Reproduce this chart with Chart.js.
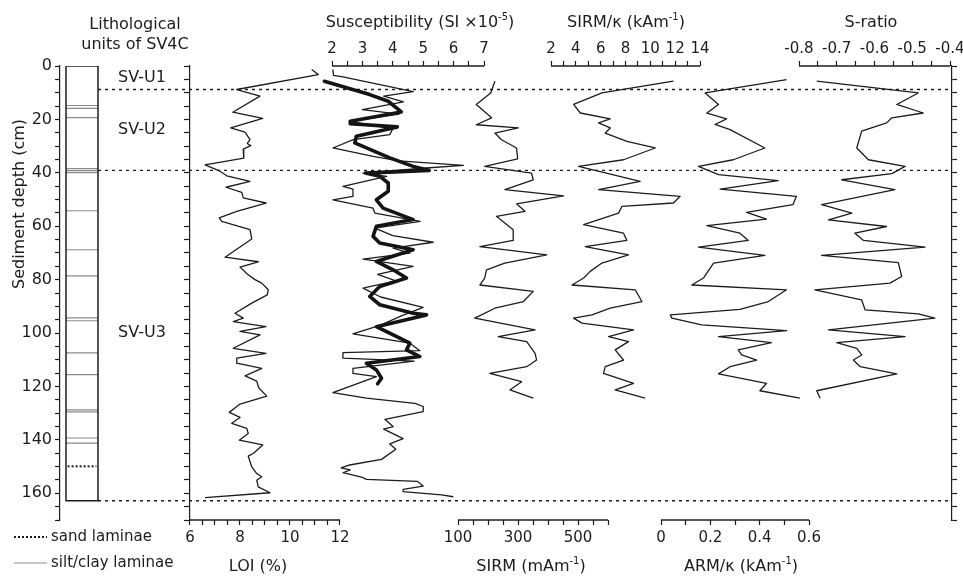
<!DOCTYPE html>
<html lang="en">
<head>
<meta charset="UTF-8">
<title>SV4C core profiles</title>
<script src="https://cdn.jsdelivr.net/npm/chart.js@4.4.1/dist/chart.umd.min.js"></script>
<style>
  body { margin: 0; background: #fff; }
</style>
</head>
<body>
<canvas id="core" width="963" height="576"></canvas>
<script>
const INK = '#1c1c1c';
const FONT = '"DejaVu Sans", "Liberation Sans", Arial, sans-serif';

// [depth (cm), value]
const loi = [[1.3,10.87],[3.2,11.13],[8.8,7.87],[11.3,8.8],[17.3,7.71],[19.6,8.91],[23.2,7.63],[24.8,8.2],[27.6,8.4],[29.0,8.29],[29.8,8.43],[31.1,8.13],[34.5,8.15],[37.0,6.6],[39.4,7.2],[41.1,7.47],[43.2,8.4],[45.4,7.44],[47.3,8.07],[49.4,8.13],[51.3,9.04],[54.4,7.87],[56.9,7.17],[58.2,7.27],[61.3,8.4],[64.8,8.47],[71.6,7.4],[73.3,8.73],[75.3,8.0],[78.0,8.3],[80.0,8.6],[81.3,8.87],[83.8,9.13],[85.7,9.09],[88.8,8.47],[92.6,7.8],[94.4,8.13],[95.7,7.73],[97.6,9.04],[99.4,8.0],[100.7,8.8],[105.7,7.73],[107.6,9.04],[109.4,7.87],[111.3,7.87],[113.2,8.87],[116.0,8.2],[118.0,8.67],[120.5,8.75],[123.6,9.07],[126.6,8.0],[129.7,7.57],[131.6,8.0],[133.8,7.67],[135.7,8.27],[137.6,8.33],[140.1,7.97],[141.9,8.91],[145.1,8.53],[146.1,8.33],[150.1,8.47],[152.6,8.67],[153.8,8.87],[155.1,8.67],[157.6,8.73],[159.8,9.2],[161.6,6.6]];

const susRaw = [[1.3,2.03],[3.5,2.05],[4.1,2.36],[9.6,4.67],[11.3,3.7],[13.4,4.35],[16.3,3.0],[18.0,4.2],[20.7,2.6],[23.5,4.0],[25.7,3.9],[27.6,2.7],[30.7,2.03],[33.8,3.35],[35.5,4.2],[37.2,6.32],[38.2,5.1],[40.1,3.02],[41.3,3.8],[45.1,2.36],[46.1,2.69],[48.8,2.69],[50.1,2.03],[53.2,3.35],[55.1,3.41],[58.2,4.9],[60.7,3.41],[63.5,4.0],[66.0,5.33],[68.2,4.01],[70.1,4.56],[72.3,3.02],[75.0,4.67],[78.0,3.5],[80.5,4.1],[83.2,3.02],[86.5,3.6],[90.4,5.0],[93.5,4.3],[97.0,3.6],[100.3,2.69],[103.8,4.56],[106.6,4.89],[107.3,2.36],[109.4,2.36],[110.5,4.7],[113.2,2.69],[115.1,2.69],[116.3,3.46],[122.3,2.03],[124.4,3.13],[126.3,4.73],[127.5,5.0],[129.4,5.0],[132.3,3.74],[135.0,4.01],[136.0,3.7],[139.5,4.34],[141.5,3.9],[143.5,4.1],[147.3,3.63],[149.4,2.58],[150.5,2.3],[151.2,2.6],[152.3,2.36],[154.0,3.0],[154.8,3.13],[155.5,4.8],[157.3,5.0],[158.5,4.34],[159.4,4.34],[160.6,5.6],[161.3,5.99]];

const susBold = [[5.7,1.75],[10.7,3.24],[13.2,3.85],[17.2,4.28],[20.7,2.6],[21.6,2.6],[22.8,4.15],[26.3,2.8],[28.8,2.75],[34.4,3.9],[37.6,4.67],[39.1,5.2],[40.1,3.1],[41.3,3.57],[43.8,3.85],[46.9,3.85],[50.1,3.46],[53.2,3.68],[57.5,4.67],[60.0,3.46],[63.8,3.35],[66.3,3.57],[68.8,4.67],[73.2,3.46],[76.3,4.01],[79.4,4.45],[82.6,3.57],[86.3,3.24],[89.4,3.57],[92.6,4.67],[93.2,5.11],[97.6,3.46],[101.9,4.23],[103.8,4.56],[106.3,4.45],[108.8,4.89],[111.3,3.13],[113.8,3.46],[116.9,3.63],[119.0,3.5]];

const sirm = [[5.7,223],[10.1,209],[14.4,161],[19.4,212],[22.0,161],[23.2,301],[25.1,223],[27.6,245],[30.7,295],[34.8,299],[37.6,189],[40.1,345],[42.6,351],[46.3,256],[48.6,452],[51.6,295],[54.4,323],[56.3,228],[61.3,284],[65.3,284],[67.6,173],[70.7,396],[73.8,256],[76.3,195],[79.4,189],[82.0,173],[84.4,351],[88.2,318],[90.7,223],[94.4,156],[98.8,357],[101.3,234],[103.2,329],[107.6,357],[110.1,362],[112.6,329],[115.1,206],[118.2,312],[121.3,273],[124.4,351]];

const sirmK = [[5.7,11.86],[10.1,6.1],[14.4,3.82],[17.6,4.36],[19.8,6.77],[21.3,5.83],[23.2,6.77],[25.1,6.37],[28.2,8.11],[30.7,10.39],[35.1,7.84],[37.6,4.22],[43.2,9.18],[46.3,5.83],[48.8,12.4],[51.3,11.86],[52.6,7.71],[55.1,7.44],[59.4,4.63],[62.6,7.84],[65.3,8.11],[67.6,4.76],[70.7,8.24],[73.8,6.1],[76.9,5.16],[79.4,4.63],[82.0,3.69],[83.8,8.78],[88.2,9.32],[90.7,6.77],[93.2,5.3],[94.4,3.82],[96.3,4.49],[98.8,8.65],[101.3,6.64],[103.2,8.24],[106.3,7.17],[110.1,7.84],[112.6,6.37],[115.1,6.23],[118.8,8.65],[121.3,7.17],[124.4,9.58]];

const armK = [[5.1,0.509],[10.1,0.179],[14.4,0.233],[17.6,0.186],[19.8,0.266],[21.9,0.219],[23.8,0.28],[30.7,0.421],[35.1,0.293],[37.6,0.152],[40.7,0.233],[42.9,0.475],[46.1,0.24],[48.8,0.549],[51.9,0.535],[54.8,0.347],[57.3,0.428],[59.8,0.186],[62.6,0.32],[65.3,0.354],[67.8,0.152],[70.9,0.421],[73.8,0.213],[79.4,0.172],[82.0,0.125],[83.8,0.509],[88.2,0.435],[91.1,0.32],[93.2,0.038],[94.4,0.044],[96.9,0.165],[99.1,0.509],[101.3,0.233],[103.6,0.448],[106.3,0.313],[108.2,0.327],[110.1,0.388],[112.6,0.28],[115.3,0.233],[118.8,0.428],[121.6,0.401],[124.4,0.563]];

const sRatio = [[5.7,-0.753],[10.1,-0.484],[14.4,-0.541],[17.6,-0.471],[19.4,-0.554],[21.3,-0.568],[24.4,-0.634],[30.7,-0.647],[35.1,-0.616],[37.6,-0.519],[40.3,-0.554],[42.6,-0.687],[46.3,-0.546],[51.9,-0.74],[55.1,-0.66],[57.6,-0.722],[60.1,-0.568],[62.6,-0.652],[65.3,-0.629],[67.8,-0.466],[70.9,-0.74],[73.6,-0.537],[78.8,-0.528],[81.3,-0.559],[83.8,-0.758],[87.6,-0.634],[91.3,-0.625],[92.8,-0.484],[94.4,-0.44],[98.8,-0.722],[101.3,-0.519],[103.6,-0.7],[105.7,-0.647],[108.2,-0.634],[110.1,-0.656],[112.6,-0.638],[115.3,-0.541],[121.6,-0.753],[124.4,-0.744]];

// tick labels
const depthTicks = [0, 20, 40, 60, 80, 100, 120, 140, 160];
const loiTicks = [6, 8, 10, 12];
const susTicks = [2, 3, 4, 5, 6, 7];
const sirmKTicks = [2, 4, 6, 8, 10, 12, 14];
const sRatioTicks = [-0.8, -0.7, -0.6, -0.5, -0.4];
const sirmTicks = [100, 300, 500];
const armKTicks = [0, 0.2, 0.4, 0.6];

// lithology column
const coreBase = 162.8;
const siltLaminae = [14.8, 15.9, 19.3, 38.4, 39.2, 39.9, 54.2, 68.8, 78.6, 94.3, 95.4, 107.4, 115.6, 128.8, 129.5, 139.3, 141.2];
const sandLaminae = [149.9];
const unitBounds = [8.8, 39.1, 162.8];
const units = ['SV-U1', 'SV-U2', 'SV-U3'];
const unitLabelDepth = [4.3, 23.8, 100];

// page layout (pixels)
const AREA = { left: 60, right: 952, top: 66, bottom: 520 };

function spanAxis(lo, hi, pxLo, pxHi) {
    const k = (hi - lo) / (pxHi - pxLo);
    return { min: lo - (pxLo - AREA.left) * k, max: hi + (AREA.right - pxHi) * k };
}

const panels = [
    { id: 'xLoi', side: 'bottom', range: [6, 12], step: 0.5, px: [190, 340], labels: loiTicks, title: [['LOI (%)']], titleX: 258 },
    { id: 'xSus', side: 'top', range: [2, 7], step: 0.5, px: [332, 484], labels: susTicks, title: [['Susceptibility (SI \u00d710'], ['-5', true], [')']], titleX: 420 },
    { id: 'xSirm', side: 'bottom', range: [100, 600], step: 50, px: [458, 608], labels: sirmTicks, title: [['SIRM (mAm'], ['-1', true], [')']], titleX: 531 },
    { id: 'xSirmK', side: 'top', range: [2, 14], step: 1, px: [551, 700], labels: sirmKTicks, title: [['SIRM/\u03ba (kAm'], ['-1', true], [')']], titleX: 626 },
    { id: 'xArmK', side: 'bottom', range: [0, 0.6], step: 0.1, px: [661, 809], labels: armKTicks, title: [['ARM/\u03ba (kAm'], ['-1', true], [')']], titleX: 741 },
    { id: 'xS', side: 'top', range: [-0.8, -0.4], step: 0.05, px: [799, 950], labels: sRatioTicks, title: [['S-ratio']], titleX: 871 }
];

function panelAxis(p) {
    const lim = spanAxis(p.range[0], p.range[1], p.px[0], p.px[1]);
    const top = p.side === 'top';
    return {
        type: 'linear',
        axis: 'x',
        min: lim.min,
        max: lim.max,
        position: { y: top ? 0 : 170 },
        border: { display: false },
        grid: { drawOnChartArea: false, tickLength: top ? -5 : 5, tickColor: INK, tickWidth: 1.2 },
        afterBuildTicks: (axis) => {
            const n = Math.round((p.range[1] - p.range[0]) / p.step);
            const out = [];
            for (let i = 0; i <= n; i++) out.push({ value: +(p.range[0] + i * p.step).toFixed(6) });
            axis.ticks = out;
        },
        ticks: {
            autoSkip: false,
            maxRotation: 0,
            padding: top ? -21 : 4,
            color: INK,
            font: { family: FONT, size: 15 },
            callback: (v) => p.labels.some(l => Math.abs(l - v) < 1e-6) ? String(+v.toFixed(6)) : ''
        }
    };
}

function depthAxis(position, showLabels, width) {
    return {
        type: 'linear',
        axis: 'y',
        position: position,
        reverse: true,
        min: 0,
        max: 170,
        border: { display: true, color: INK, width: 1.2 },
        grid: { drawOnChartArea: false, tickLength: 5, tickColor: INK, tickWidth: 1.2 },
        ticks: {
            display: showLabels,
            stepSize: 5,
            autoSkip: false,
            padding: 3,
            color: INK,
            font: { family: FONT, size: 16 },
            callback: (v) => depthTicks.includes(v) ? String(v) : ''
        },
        afterFit: width ? (axis) => { axis.width = width; } : undefined
    };
}

const lithLim = spanAxis(0, 1, 66, 98);

const scales = {
    y: depthAxis('left', true, 60),
    yRight: depthAxis('right', false, 11),
    yMid: depthAxis({ xLoi: 6 }, false, 0),
    xLith: { type: 'linear', axis: 'x', display: false, min: lithLim.min, max: lithLim.max }
};
panels.forEach(p => { scales[p.id] = panelAxis(p); });

function profile(points, axisId, extra) {
    return Object.assign({
        data: points.map(([d, v]) => ({ x: v, y: d })),
        xAxisID: axisId,
        yAxisID: 'y',
        showLine: true,
        pointRadius: 0,
        pointHoverRadius: 0,
        borderColor: INK,
        backgroundColor: INK,
        borderWidth: 1.3,
        borderJoinStyle: 'round',
        fill: false,
        order: 2
    }, extra || {});
}

function rows(depths, x0, x1) {
    return depths.flatMap(d => [{ x: x0, y: d }, { x: x1, y: d }, { x: null, y: null }]);
}

const datasets = [
    profile(susBold, 'xSus', { borderWidth: 3.6, borderColor: '#141414', borderCapStyle: 'round', order: 0 }),
    profile(loi, 'xLoi'),
    profile(susRaw, 'xSus'),
    profile(sirm, 'xSirm'),
    profile(sirmK, 'xSirmK'),
    profile(armK, 'xArmK'),
    profile(sRatio, 'xS'),
    // lithology column
    { data: rows(siltLaminae, 0, 1), xAxisID: 'xLith', yAxisID: 'y', showLine: true, pointRadius: 0, borderColor: '#8c8c8c', borderWidth: 1.2, order: 3 },
    { data: rows(sandLaminae, 0.05, 0.95), xAxisID: 'xLith', yAxisID: 'y', showLine: true, pointRadius: 0, borderColor: INK, borderWidth: 2, borderDash: [2, 2], order: 3 },
    { data: [{ x: 0, y: 0 }, { x: 1, y: 0 }, { x: 1, y: coreBase }, { x: 0, y: coreBase }, { x: 0, y: 0 }], xAxisID: 'xLith', yAxisID: 'y', showLine: true, pointRadius: 0, borderColor: INK, borderWidth: 1.5, order: 1 },
    { data: rows(unitBounds, 1, lithLim.max), xAxisID: 'xLith', yAxisID: 'y', showLine: true, pointRadius: 0, borderColor: INK, borderWidth: 1.3, borderDash: [3, 4], order: 1 }
];

function drawRich(ctx, parts, cx, cy, size) {
    const base = size + 'px ' + FONT;
    const sup = Math.round(size * 0.62) + 'px ' + FONT;
    let w = 0;
    parts.forEach(([t, s]) => { ctx.font = s ? sup : base; w += ctx.measureText(t).width; });
    let x = cx - w / 2;
    ctx.textAlign = 'left';
    ctx.textBaseline = 'middle';
    parts.forEach(([t, s]) => {
        ctx.font = s ? sup : base;
        ctx.fillText(t, x, s ? cy - size * 0.38 : cy);
        x += ctx.measureText(t).width;
    });
}

const decorations = {
    id: 'decorations',
    afterDraw(chart) {
        const ctx = chart.ctx;
        const y = chart.scales.y;
        ctx.save();
        ctx.strokeStyle = INK;
        ctx.fillStyle = INK;
        ctx.lineWidth = 1.3;

        // axis segments and titles of each panel
        panels.forEach(p => {
            const s = chart.scales[p.id];
            const top = p.side === 'top';
            const py = y.getPixelForValue(top ? 0 : 170);
            ctx.beginPath();
            ctx.moveTo(s.getPixelForValue(p.range[0]), py);
            ctx.lineTo(s.getPixelForValue(p.range[1]), py);
            ctx.stroke();
            drawRich(ctx, p.title, p.titleX, top ? 23 : 567, 16);
        });

        drawRich(ctx, [['Lithological']], 135, 25, 16);
        drawRich(ctx, [['units of SV4C']], 135, 45, 16);

        units.forEach((u, i) => drawRich(ctx, [[u]], 142, y.getPixelForValue(unitLabelDepth[i]), 16));

        ctx.save();
        ctx.translate(20, 204);
        ctx.rotate(-Math.PI / 2);
        drawRich(ctx, [['Sediment depth (cm)']], 0, 0, 16);
        ctx.restore();

        // legend
        ctx.lineWidth = 2;
        ctx.setLineDash([2, 2]);
        ctx.beginPath(); ctx.moveTo(14, 537); ctx.lineTo(47, 537); ctx.stroke();
        ctx.setLineDash([]);
        ctx.lineWidth = 1.2;
        ctx.strokeStyle = '#8c8c8c';
        ctx.beginPath(); ctx.moveTo(14, 563); ctx.lineTo(47, 563); ctx.stroke();
        ctx.font = '15px ' + FONT;
        ctx.textAlign = 'left';
        ctx.textBaseline = 'middle';
        ctx.fillText('sand laminae', 51, 537);
        ctx.fillText('silt/clay laminae', 51, 563);
        ctx.restore();
    }
};

new Chart(document.getElementById('core'), {
    type: 'scatter',
    data: { datasets: datasets },
    options: {
        responsive: false,
        devicePixelRatio: 1,
        animation: false,
        layout: { padding: { top: AREA.top, bottom: 576 - AREA.bottom, left: 0, right: 0 } },
        scales: scales,
        plugins: {
            legend: { display: false },
            tooltip: { enabled: false }
        }
    },
    plugins: [decorations]
});
</script>
</body>
</html>
